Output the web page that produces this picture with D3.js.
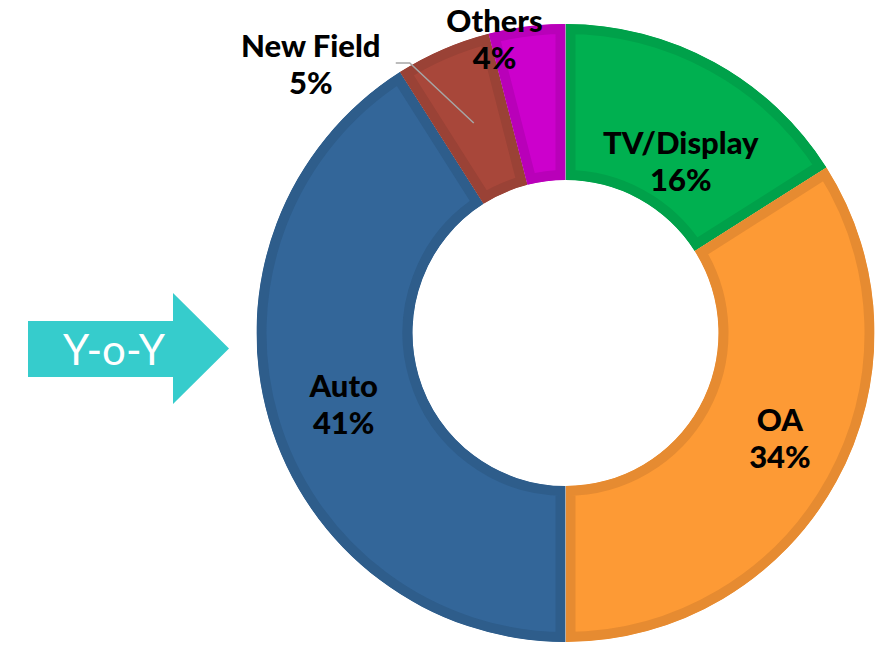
<!DOCTYPE html>
<html>
<head>
<meta charset="utf-8">
<script src="https://cdn.jsdelivr.net/npm/d3@7"></script>
<style>
  body { margin: 0; background: #fff; }
  #chart { width: 884px; height: 649px; }
</style>
</head>
<body>
<div id="chart"></div>
<script>
// chart data
const categories = ["TV/Display", "OA", "Auto", "New Field", "Others"];
const shares = [16, 34, 41, 5, 4];
const fillColors = ["#00B050", "#FD9A35", "#336699", "#A8473A", "#CC00CC"];
const edgeColors = ["#00A14A", "#E68B31", "#2E5D8B", "#9A4236", "#B900B9"];
// label nudges from the arc centroid (PowerPoint-style manual placement)
const labelShift = [[4, 23], [12, -13], [0, 0], [-163, -64], [-42, -72]];
const arrowText = "Y-o-Y";

const width = 884, height = 649;
const cx = 565.5, cy = 333;
const outerR = 309, innerR = 153;
const edge = 10;

const svg = d3.select("#chart").append("svg")
    .attr("width", width)
    .attr("height", height);

const data = categories.map((c, i) => ({ name: c, value: shares[i], i: i }));

const pie = d3.pie().value(d => d.value).sort(null);
const arc = d3.arc().innerRadius(innerR).outerRadius(outerR);
const arcs = pie(data);

const g = svg.append("g").attr("transform", `translate(${cx},${cy})`);
const defs = svg.append("defs");

arcs.forEach((a, i) => {
    defs.append("clipPath").attr("id", "clip" + i)
        .append("path").attr("d", arc(a));
});

// slices with inner border
g.selectAll(".slice")
    .data(arcs)
    .join("path")
    .attr("class", "slice")
    .attr("d", arc)
    .attr("fill", d => fillColors[d.data.i])
    .attr("stroke", d => edgeColors[d.data.i])
    .attr("stroke-width", edge * 2)
    .attr("clip-path", d => `url(#clip${d.data.i})`);

// leader line for New Field
const nf = arcs[3];
const nfc = arc.centroid(nf);
g.append("polyline")
    .attr("points", [
        [nfc[0], nfc[1] + 2],
        [nfc[0] - 64, 63 - cy],
        [nfc[0] - 78, 63 - cy]
    ].map(p => p.join(",")).join(" "))
    .attr("fill", "none")
    .attr("stroke", "#A6A6A6")
    .attr("stroke-width", 1.5);

// labels
const labels = g.selectAll(".lbl")
    .data(arcs)
    .join("text")
    .attr("class", "lbl")
    .attr("text-anchor", "middle")
    .style("font-family", "Lato, 'Open Sans', sans-serif")
    .style("font-weight", 900)
    .style("font-size", "31px")
    .attr("fill", "#000")
    .attr("transform", d => {
        const c = arc.centroid(d);
        const s = labelShift[d.data.i];
        return `translate(${c[0] + s[0]},${c[1] + s[1]})`;
    });

labels.append("tspan").attr("x", 0).attr("y", 0).text(d => d.data.name);
labels.append("tspan").attr("x", 0).attr("y", 37).text(d => d.data.value + "%");

// Y-o-Y arrow
const arrow = svg.append("g");
arrow.append("path")
    .attr("d", "M28,321 L173,321 L173,293 L229,348.5 L173,404 L173,377 L28,377 Z")
    .attr("fill", "#36CCCC");
arrow.append("text")
    .attr("x", 114)
    .attr("y", 365)
    .attr("text-anchor", "middle")
    .style("font-family", "Lato, 'Open Sans', sans-serif")
    .style("font-size", "42px")
    .attr("fill", "#fff")
    .text(arrowText);
</script>
</body>
</html>
